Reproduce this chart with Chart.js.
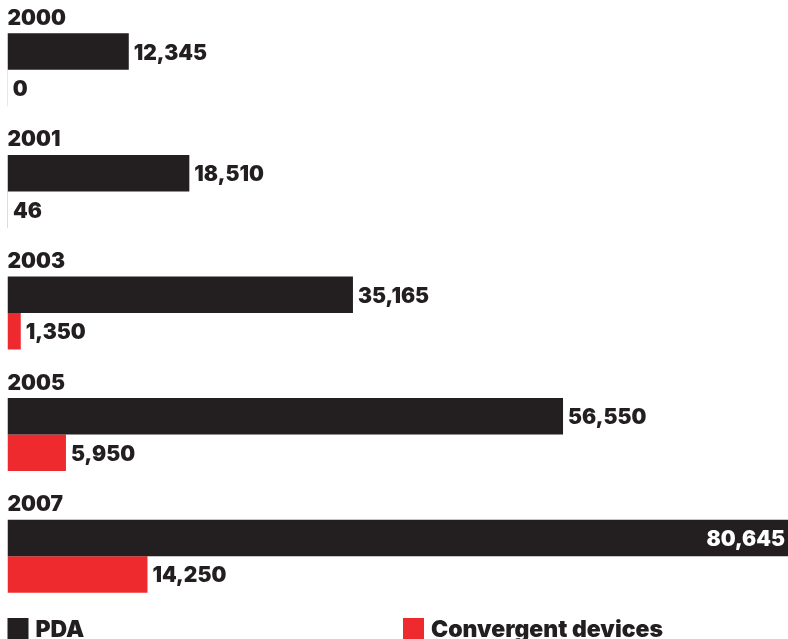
<!DOCTYPE html>
<html>
<head>
<meta charset="utf-8">
<script src="https://cdn.jsdelivr.net/npm/chart.js@4/dist/chart.umd.min.js"></script>
<style>
  html, body { margin: 0; padding: 0; background: #ffffff; }
  #wrap { width: 788px; height: 639px; position: relative; }
</style>
</head>
<body>
<div id="wrap"><canvas id="chart"></canvas></div>
<script>
// Unit shipments by year
const years = ['2000', '2001', '2003', '2005', '2007'];
const pdaUnits = [12345, 18510, 35165, 56550, 80645];
const convergentUnits = [0, 46, 1350, 5950, 14250];
const seriesNames = ['PDA', 'Convergent devices'];

// the value axis stops a little short of the longest bar, which runs off the edge
const axisMax = 79450;

const INK = '#231f20';
const RED = '#ee2a2e';
const FONT = 'Inter, "DejaVu Sans", sans-serif';

const fmt = v => v.toLocaleString('en-US');

// Year headings, value labels and the legend row
const annotate = {
  id: 'annotate',
  afterDatasetsDraw(chart) {
    const ctx = chart.ctx;
    const area = chart.chartArea;
    ctx.save();

    // year heading above each group
    const first = chart.getDatasetMeta(0);
    ctx.font = '900 21px ' + FONT;
    ctx.fillStyle = INK;
    ctx.textAlign = 'left';
    ctx.textBaseline = 'alphabetic';
    first.data.forEach((bar, i) => {
      const top = bar.y - bar.height / 2;
      ctx.fillText(chart.data.labels[i], area.left, top - 8.5);
    });

    // value labels at the end of each bar
    ctx.font = '900 21px ' + FONT;
    chart.data.datasets.forEach((ds, di) => {
      const meta = chart.getDatasetMeta(di);
      meta.data.forEach((bar, i) => {
        const text = fmt(ds.data[i]);
        const w = ctx.measureText(text).width;
        const y = bar.y + 8;
        const end = Math.min(bar.x, area.right);
        if (end + 5 + w > area.right) {
          ctx.fillStyle = '#ffffff';
          ctx.textAlign = 'right';
          ctx.fillText(text, end - 3, y);
        } else {
          ctx.fillStyle = INK;
          ctx.textAlign = 'left';
          ctx.fillText(text, end + 5, y);
        }
      });
    });

    // legend along the bottom edge
    ctx.font = '900 23px ' + FONT;
    ctx.textAlign = 'left';
    const legendX = [area.left, chart.width / 2 + 9];
    chart.data.datasets.forEach((ds, di) => {
      const x = legendX[di];
      ctx.fillStyle = ds.backgroundColor;
      ctx.fillRect(x, 618, 21, 21);
      ctx.fillStyle = INK;
      ctx.fillText(ds.label, x + 28, 637);
    });

    ctx.restore();
  }
};

new Chart(document.getElementById('chart'), {
  type: 'bar',
  data: {
    labels: years,
    datasets: [
      { label: seriesNames[0], data: pdaUnits, backgroundColor: INK },
      { label: seriesNames[1], data: convergentUnits, backgroundColor: RED, minBarLength: 0.3 }
    ]
  },
  options: {
    indexAxis: 'y',
    responsive: true,
    maintainAspectRatio: false,
    animation: false,
    layout: { padding: { left: 7.5, right: 0, top: 9, bottom: 22 } },
    datasets: { bar: { categoryPercentage: 0.6, barPercentage: 1.0, borderWidth: 0 } },
    scales: {
      x: { display: false, min: 0, max: axisMax },
      y: { display: false }
    },
    plugins: {
      legend: { display: false },
      tooltip: { enabled: false }
    }
  },
  plugins: [annotate]
});
</script>
</body>
</html>
